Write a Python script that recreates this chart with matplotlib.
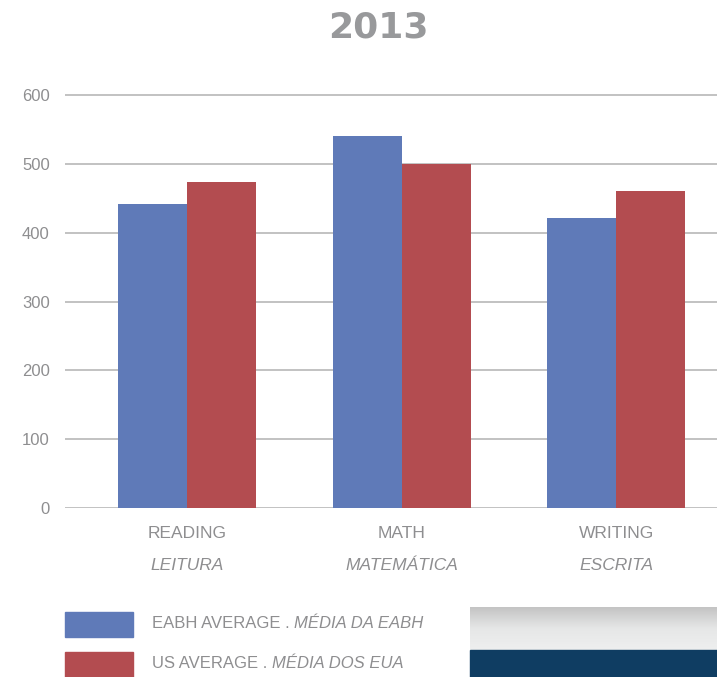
import numpy as np
import matplotlib
matplotlib.use("Agg")
import matplotlib.pyplot as plt
from matplotlib import font_manager
from matplotlib.patches import Rectangle

# data
subjects_en = ["READING", "MATH", "WRITING"]
subjects_pt = ["LEITURA", "MATEMÁTICA", "ESCRITA"]
eabh_avg = [442, 541, 421]
us_avg = [474, 500, 461]
yticks = [0, 100, 200, 300, 400, 500, 600]

blue = "#5f7ab8"
red = "#b34c50"
gray_txt = "#8e8e90"

names = {f.name for f in font_manager.fontManager.ttflist}
narrow = "Liberation Sans Narrow" if "Liberation Sans Narrow" in names else "Liberation Sans"
plt.rcParams["font.family"] = [narrow, "DejaVu Sans"]

W, H = 717, 677
fig = plt.figure(figsize=(W / 100, H / 100), dpi=100)

# main axes, pixel-measured
x0, x1 = 65, 717
y_zero, y_600 = 508, 95
ppu = (y_zero - y_600) / 600.0
ytop = 615
top_px = y_zero - ytop * ppu
ax = fig.add_axes([x0 / W, 1 - y_zero / H, (x1 - x0) / W, (y_zero - top_px) / H])

x = np.arange(len(subjects_en))
w = 0.322
ax.bar(x - w / 2, eabh_avg, w, color=blue, zorder=3)
ax.bar(x + w / 2, us_avg, w, color=red, zorder=3)

ax.set_ylim(0, ytop)
ax.set_xlim(-0.569, 2.47)
ax.set_yticks(yticks)
ax.tick_params(axis="y", length=0, pad=11, labelsize=12, labelcolor=gray_txt)
ax.set_xticks([])
for s in ax.spines.values():
    s.set_visible(False)
for t in yticks:
    ax.axhline(t, color="#b8b8b8", lw=1.2, zorder=1)

for i in range(len(subjects_en)):
    ax.text(x[i], -37, subjects_en[i], ha="center", va="center",
            fontsize=12.5, color=gray_txt)
    ax.text(x[i], -83, subjects_pt[i], ha="center", va="center",
            fontsize=12.5, color=gray_txt, style="italic")

fig.text(378 / W, 1 - 28 / H, "2013", ha="center", va="center", fontsize=26,
         fontweight="bold", family="DejaVu Sans", color="#98999b")

# legend
leg_rows = [("EABH AVERAGE . ", "MÉDIA DA EABH", blue, 624),
            ("US AVERAGE . ", "MÉDIA DOS EUA", red, 664)]
fig.canvas.draw()
r = fig.canvas.get_renderer()
for reg, ital, col, yc in leg_rows:
    fig.patches.append(Rectangle((65 / W, 1 - (yc + 12.5) / H), 68 / W, 25 / H,
                                 transform=fig.transFigure, color=col))
    t1 = fig.text(152 / W, 1 - yc / H, reg, ha="left", va="center",
                  fontsize=12, color=gray_txt)
    bb = t1.get_window_extent(renderer=r)
    fig.text(bb.x1 / W, 1 - yc / H, ital, ha="left", va="center",
             fontsize=12, color=gray_txt, style="italic")

# decorative boxes bottom right
gax = fig.add_axes([470 / W, 1 - 650 / H, (W - 470) / W, 43 / H])
grad = np.linspace(0, 1, 50).reshape(-1, 1)
gax.imshow(grad, aspect="auto", cmap=matplotlib.colors.LinearSegmentedColormap.from_list(
    "g", ["#c4c4c4", "#e6e7e7", "#eeefef"]), extent=[0, 1, 0, 1])
gax.axis("off")
fig.patches.append(Rectangle((470 / W, 0), (W - 470) / W, 27 / H,
                             transform=fig.transFigure, color="#0f3d62"))

fig.savefig("out.png", dpi=100)
